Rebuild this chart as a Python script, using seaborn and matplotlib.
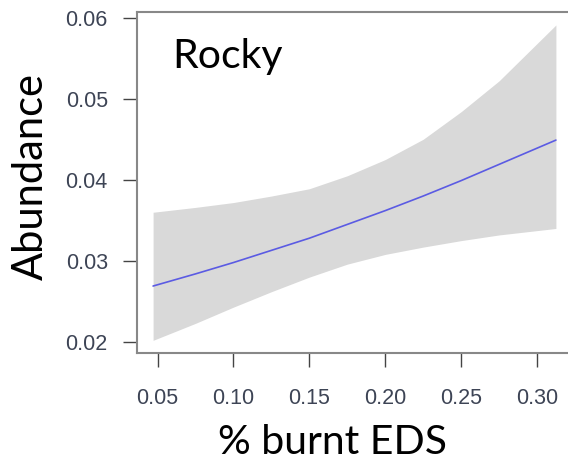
import numpy as np
import pandas as pd
import matplotlib
matplotlib.use("Agg")
import matplotlib.pyplot as plt
import seaborn as sns

sns.set_style("ticks")
plt.rcParams['font.family'] = ['Liberation Sans', 'DejaVu Sans']

# fitted curve
burnt = [0.047, 0.075, 0.10, 0.125, 0.15, 0.175, 0.20, 0.225, 0.25, 0.275, 0.3125]
fit = [0.0269, 0.0284, 0.0298, 0.0313, 0.0328, 0.0345, 0.0362, 0.0380, 0.0399, 0.0419, 0.0449]
upper = [0.0360, 0.0366, 0.0372, 0.0380, 0.0389, 0.0405, 0.0425, 0.0450, 0.0484, 0.0522, 0.0591]
lower = [0.0202, 0.0223, 0.0243, 0.0262, 0.0280, 0.0296, 0.0308, 0.0317, 0.0325, 0.0332, 0.0340]
xticks = [0.05, 0.10, 0.15, 0.20, 0.25, 0.30]
yticks = [0.02, 0.03, 0.04, 0.05, 0.06]

df = pd.DataFrame({"burnt": burnt, "fit": fit, "upper": upper, "lower": lower})

fig = plt.figure(figsize=(5.68, 4.62), dpi=100)
ax = fig.add_axes([137/568, 1-353/462, 435/568, 341/462])

ax.fill_between(df["burnt"], df["lower"], df["upper"], color="#d9d9d9", lw=0)
sns.lineplot(data=df, x="burnt", y="fit", ax=ax, color="#5b5be3", lw=1.2)

ax.set_xlim(0.0364, 0.3231)
ax.set_ylim(0.01864, 0.0607)
ax.set_xticks(xticks)
ax.set_xticklabels([f"{v:.2f}" for v in xticks])
ax.set_yticks(yticks)
ax.set_yticklabels([f"{v:.2f}" for v in yticks])
ax.tick_params(direction="out", length=10, width=1.0, color="#444444",
               labelsize=15.5, labelcolor="#3d4455")
ax.tick_params(axis="x", pad=15)
ax.tick_params(axis="y", pad=11)

for s in ["left", "top", "bottom"]:
    ax.spines[s].set_color("#888888")
    ax.spines[s].set_linewidth(1.5)
ax.spines["right"].set_visible(False)

ax.set_xlabel("% burnt EDS", fontsize=29.5, family=["Lato", "DejaVu Sans"], color="black")
ax.xaxis.set_label_coords((332.5-137)/435, (353-454)/341)
ax.xaxis.label.set_va("baseline")
ax.set_ylabel("Abundance", fontsize=30, family=["Lato", "DejaVu Sans"], color="black")
ax.yaxis.set_label_coords((43-137)/435, (353-176)/341)
ax.yaxis.label.set_va("baseline")
ax.text(172/568, 1-68/462, "Rocky", transform=fig.transFigure, fontsize=29.5,
        family=["Lato", "DejaVu Sans"], va="baseline", ha="left", color="black")

fig.savefig("out.png", dpi=100)
